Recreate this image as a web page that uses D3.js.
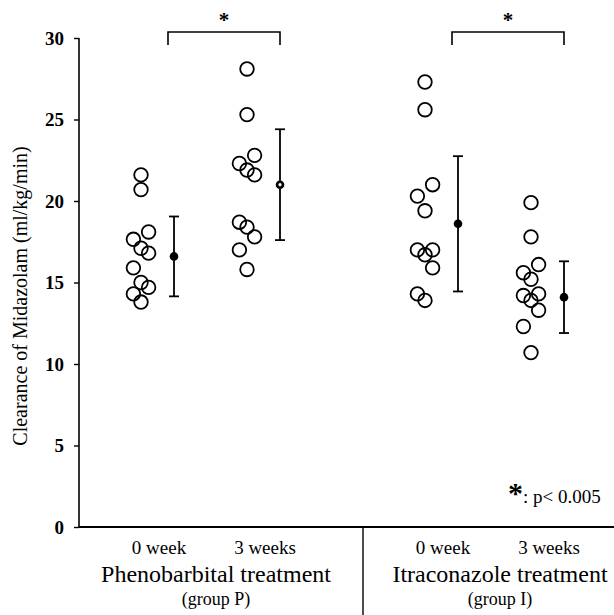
<!DOCTYPE html>
<html>
<head>
<meta charset="utf-8">
<script src="https://cdn.jsdelivr.net/npm/d3@7"></script>
<style>
  body { margin: 0; background: #fff; }
  svg { display: block; font-family: "Liberation Serif", "Times New Roman", serif; }
</style>
</head>
<body>
<svg id="chart" width="614" height="615"></svg>
<script>
// data
const groups = ["Phenobarbital treatment", "Itraconazole treatment"];
const groupTags = ["(group P)", "(group I)"];
const weeks = ["0 week", "3 weeks"];
const yTicks = [0, 5, 10, 15, 20, 25, 30];

const phenoWeek0 = [21.6, 20.7, 18.1, 17.65, 17.1, 16.8, 15.9, 15.0, 14.7, 14.3, 13.8];
const phenoWeek3 = [28.1, 25.3, 22.8, 22.3, 21.9, 21.6, 18.7, 18.4, 17.8, 17.0, 15.8];
const itraWeek0 = [27.3, 25.6, 21.0, 20.3, 19.4, 17.0, 16.7, 17.0, 15.9, 14.3, 13.9];
const itraWeek3 = [19.9, 17.8, 16.1, 15.6, 15.2, 14.2, 14.3, 13.9, 13.3, 12.3, 10.7];
// jitter lane of each point (-1 left, 0 centre, 1 right)
const phenoLanes0 = [0, 0, 1, -1, 0, 1, -1, 0, 1, -1, 0];
const phenoLanes3 = [0, 0, 1, -1, 0, 1, -1, 0, 1, -1, 0];
const itraLanes0 = [0, 0, 1, -1, 0, -1, 0, 1, 1, -1, 0];
const itraLanes3 = [0, 0, 1, -1, 0, -1, 1, 0, 1, -1, 0];

const means = [16.6, 21.0, 18.6, 14.1];
const sds = [2.45, 3.4, 4.15, 2.2];

const columns = [
    {group: groups[0], week: weeks[0], values: phenoWeek0, lanes: phenoLanes0, mean: means[0], sd: sds[0]},
    {group: groups[0], week: weeks[1], values: phenoWeek3, lanes: phenoLanes3, mean: means[1], sd: sds[1]},
    {group: groups[1], week: weeks[0], values: itraWeek0, lanes: itraLanes0, mean: means[2], sd: sds[2]},
    {group: groups[1], week: weeks[1], values: itraWeek3, lanes: itraLanes3, mean: means[3], sd: sds[3]}
];

const svg = d3.select("#chart");
const axisX = 79, baseY = 527, topY = 38, rightX = 614;

const y = d3.scaleLinear().domain([0, 30]).range([baseY, topY]);
const xGroup = d3.scaleBand().domain(groups).range([axisX, axisX + 2 * 284]);
const xWeek = d3.scalePoint().domain(weeks).range([62, 168]);
const colX = c => xGroup(c.group) + xWeek(c.week);
const laneW = 7.6, barOff = 33;

// y axis
const yAxis = svg.append("g")
    .attr("transform", "translate(" + axisX + ",0)")
    .call(d3.axisLeft(y).tickValues(yTicks).tickSize(5).tickPadding(10));
yAxis.select(".domain").attr("stroke", "#000").attr("stroke-width", 1.6)
    .attr("d", "M0," + baseY + "V" + topY);
yAxis.selectAll(".tick line").attr("stroke", "#000").attr("stroke-width", 1.4);
yAxis.selectAll(".tick text")
    .attr("font-family", "Liberation Serif")
    .attr("font-size", 19)
    .attr("font-weight", "bold")
    .attr("fill", "#000");

// x baseline and group divider
svg.append("line")
    .attr("x1", axisX).attr("x2", rightX)
    .attr("y1", baseY).attr("y2", baseY)
    .attr("stroke", "#000").attr("stroke-width", 1.8);
svg.append("line")
    .attr("x1", xGroup(groups[1])).attr("x2", xGroup(groups[1]))
    .attr("y1", baseY).attr("y2", 615)
    .attr("stroke", "#000").attr("stroke-width", 1.4);

// y label
svg.append("text")
    .attr("transform", "translate(27,296) rotate(-90)")
    .attr("text-anchor", "middle")
    .attr("font-size", 20)
    .text("Clearance of Midazolam (ml/kg/min)");

// individual points
const colG = svg.selectAll("g.col").data(columns).join("g").attr("class", "col");
colG.selectAll("circle.pt")
    .data(c => c.values.map((v, i) => ({v: v, lane: c.lanes[i], x: colX(c)})))
    .join("circle")
        .attr("class", "pt")
        .attr("cx", d => d.x + d.lane * laneW)
        .attr("cy", d => y(d.v))
        .attr("r", 6.8)
        .attr("fill", "none")
        .attr("stroke", "#000")
        .attr("stroke-width", 1.8);

// mean +/- sd
colG.each(function(c, i){
    const g = d3.select(this);
    const bx = colX(c) + barOff;
    g.append("line")
        .attr("x1", bx).attr("x2", bx)
        .attr("y1", y(c.mean + c.sd)).attr("y2", y(c.mean - c.sd))
        .attr("stroke", "#000").attr("stroke-width", 1.8);
    [c.mean + c.sd, c.mean - c.sd].forEach(v => {
        g.append("line")
            .attr("x1", bx - 5).attr("x2", bx + 5)
            .attr("y1", y(v)).attr("y2", y(v))
            .attr("stroke", "#000").attr("stroke-width", 1.8);
    });
    g.append("circle")
        .attr("cx", bx).attr("cy", y(c.mean))
        .attr("r", 4.3)
        .attr("fill", "#000");
    // the 3-week phenobarbital mean is drawn with a light centre
    if(i === 1){
        g.append("circle")
            .attr("cx", bx).attr("cy", y(c.mean))
            .attr("r", 1.6)
            .attr("fill", "#fff");
    }
});

// x labels
columns.forEach(c => {
    svg.append("text")
        .attr("x", colX(c) + 18).attr("y", 554)
        .attr("text-anchor", "middle")
        .attr("font-size", 19)
        .text(c.week);
});
groups.forEach((g, i) => {
    const mid = xGroup(g) + (xWeek(weeks[0]) + xWeek(weeks[1])) / 2 + 22;
    svg.append("text")
        .attr("x", mid).attr("y", 582)
        .attr("text-anchor", "middle")
        .attr("font-size", 24)
        .text(g);
    svg.append("text")
        .attr("x", mid).attr("y", 605)
        .attr("text-anchor", "middle")
        .attr("font-size", 18)
        .text(groupTags[i]);
});

// significance brackets
groups.forEach((g, i) => {
    const a = colX(columns[i * 2]) + barOff - 6;
    const b = colX(columns[i * 2 + 1]) + barOff;
    const top = 32;
    svg.append("path")
        .attr("d", "M" + a + "," + (top + 13) + "V" + top + "H" + b + "V" + (top + 13))
        .attr("fill", "none").attr("stroke", "#000").attr("stroke-width", 1.6);
    svg.append("text")
        .attr("x", (a + b) / 2).attr("y", 27)
        .attr("text-anchor", "middle")
        .attr("font-size", 21)
        .attr("font-weight", "bold")
        .text("*");
});

// legend
const leg = svg.append("text").attr("x", 508).attr("y", 503).attr("font-size", 19);
leg.append("tspan").attr("font-size", 30).attr("font-weight", "bold").text("*");
leg.append("tspan").text(": p< 0.005");
</script>
</body>
</html>
